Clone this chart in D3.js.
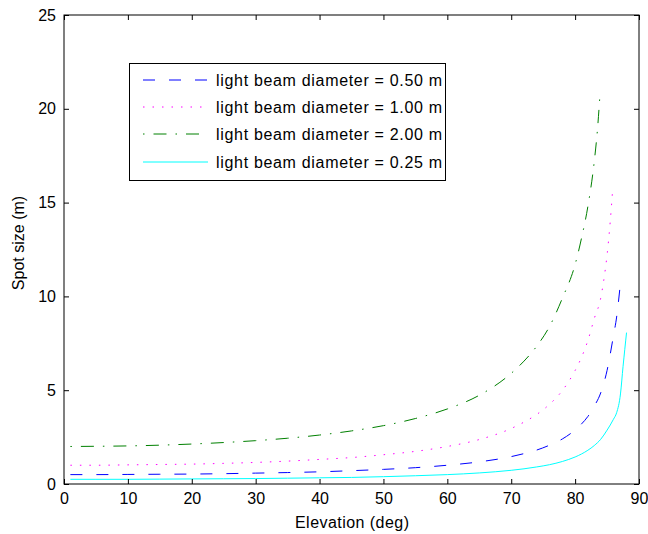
<!DOCTYPE html>
<html>
<head>
<meta charset="utf-8">
<script src="https://cdn.jsdelivr.net/npm/d3@7"></script>
<style>
  html, body { margin: 0; padding: 0; background: #fff; }
  svg { display: block; }
  text { font-family: "Liberation Sans", Arial, sans-serif; }
</style>
</head>
<body>
<svg id="chart" width="648" height="534"></svg>
<script>
// ---- data ----
const xTicks = [0, 10, 20, 30, 40, 50, 60, 70, 80, 90];
const yTicks = [0, 5, 10, 15, 20, 25];

const elev050 = [1, 5, 10, 15, 20, 25, 30, 35, 40, 45, 50, 55, 60, 65, 70, 72, 74, 76, 78, 80, 81, 82, 83, 84, 85, 86, 86.5, 87.0];
const spot050 = [0.50, 0.50, 0.51, 0.52, 0.53, 0.55, 0.58, 0.61, 0.65, 0.71, 0.78, 0.87, 1.00, 1.18, 1.46, 1.62, 1.81, 2.07, 2.40, 2.88, 3.20, 3.60, 4.15, 4.85, 6.05, 7.90, 8.90, 10.40];

const elev100 = [1, 5, 10, 15, 20, 25, 30, 35, 40, 45, 50, 55, 60, 65, 70, 72, 74, 76, 78, 80, 81, 82, 83, 84, 84.5, 85, 85.5, 85.9];
const spot100 = [1.00, 1.00, 1.02, 1.04, 1.06, 1.10, 1.15, 1.22, 1.31, 1.41, 1.56, 1.74, 2.00, 2.37, 2.96, 3.30, 3.71, 4.25, 4.98, 6.05, 6.75, 7.65, 8.82, 9.90, 10.90, 12.20, 14.00, 15.80];

const elev200 = [1, 5, 10, 15, 20, 25, 30, 35, 40, 45, 50, 55, 60, 65, 70, 72, 74, 76, 78, 80, 81, 82, 83, 83.5, 83.9];
const spot200 = [2.00, 2.01, 2.03, 2.07, 2.13, 2.21, 2.31, 2.44, 2.61, 2.83, 3.11, 3.49, 4.00, 4.73, 5.90, 6.55, 7.35, 8.40, 9.90, 11.70, 13.10, 14.80, 17.20, 18.90, 20.80];

const elev025 = [1, 5, 10, 15, 20, 25, 30, 35, 40, 45, 50, 55, 60, 65, 70, 72, 74, 76, 78, 80, 81, 82, 83, 84, 85, 86, 86.5, 87.1, 87.5, 88.05];
const spot025 = [0.25, 0.25, 0.25, 0.26, 0.27, 0.28, 0.29, 0.31, 0.33, 0.35, 0.39, 0.44, 0.50, 0.59, 0.73, 0.81, 0.91, 1.03, 1.20, 1.44, 1.60, 1.80, 2.05, 2.38, 2.87, 3.45, 3.80, 4.80, 6.25, 8.07];

const seriesNames = ["light beam diameter = 0.50 m", "light beam diameter = 1.00 m", "light beam diameter = 2.00 m", "light beam diameter = 0.25 m"];
const seriesColors = ["#0000ff", "#ff00ff", "#008000", "#00ffff"];
const seriesDash = ["12,14", "1.5,8", "1.5,9,13,9", null];
const seriesX = [elev050, elev100, elev200, elev025];
const seriesY = [spot050, spot100, spot200, spot025];

const xLabel = "Elevation (deg)";
const yLabel = "Spot size (m)";

// ---- layout ----
const svg = d3.select("#chart");
const L = 64, R = 639, T = 15, B = 484;
const x = d3.scaleLinear().domain([0, 90]).range([L, R]);
const y = d3.scaleLinear().domain([0, 25]).range([B, T]);
const fs = 16;

svg.append("rect").attr("width", 648).attr("height", 534).attr("fill", "#fff");

// series
const line = d3.line().x(d => x(d[0])).y(d => y(d[1])).curve(d3.curveMonotoneX);
seriesX.forEach((xs, i) => {
  const pts = xs.map((e, j) => [e, seriesY[i][j]]);
  const p = svg.append("path")
    .attr("d", line(pts))
    .attr("fill", "none")
    .attr("stroke", seriesColors[i])
    .attr("stroke-width", 1);
  if (seriesDash[i]) p.attr("stroke-dasharray", seriesDash[i]);
});

// axes (box with inward ticks on all sides)
const tickLen = 5;
const ax = svg.append("g").attr("stroke", "#000").attr("stroke-width", 1).attr("fill", "none");
ax.append("rect").attr("x", L).attr("y", T).attr("width", R - L).attr("height", B - T);

const xb = d3.axisBottom(x).tickValues(xTicks).tickSize(-tickLen).tickPadding(tickLen + 4).tickFormat(d3.format("d"));
const xt = d3.axisTop(x).tickValues(xTicks).tickSize(-tickLen).tickFormat("");
const yl = d3.axisLeft(y).tickValues(yTicks).tickSize(-tickLen).tickPadding(tickLen + 3).tickFormat(d3.format("d"));
const yr = d3.axisRight(y).tickValues(yTicks).tickSize(-tickLen).tickFormat("");

function styleAxis(g) {
  g.select(".domain").remove();
  g.selectAll(".tick line").attr("stroke", "#000");
  g.selectAll("text").attr("font-size", fs).attr("fill", "#000")
    .style("font-family", "'Liberation Sans', Arial, sans-serif");
}
svg.append("g").attr("transform", `translate(0,${B})`).call(xb).call(styleAxis);
svg.append("g").attr("transform", `translate(0,${T})`).call(xt).call(styleAxis);
svg.append("g").attr("transform", `translate(${L},0)`).call(yl).call(styleAxis);
svg.append("g").attr("transform", `translate(${R},0)`).call(yr).call(styleAxis);

// axis labels
svg.append("text").attr("x", 352).attr("y", 528).attr("text-anchor", "middle")
  .attr("font-size", fs).attr("textLength", 114).attr("lengthAdjust", "spacing").text(xLabel);
svg.append("text").attr("transform", `translate(24,${243}) rotate(-90)`)
  .attr("text-anchor", "middle").attr("font-size", fs).text(yLabel);

// legend
const lg = svg.append("g");
lg.append("rect").attr("x", 129.5).attr("y", 63.5).attr("width", 316).attr("height", 117)
  .attr("fill", "#fff").attr("stroke", "#000").attr("stroke-width", 1);
const rowY = [80, 107, 134, 162];
seriesNames.forEach((name, i) => {
  const ln = lg.append("line").attr("x1", 143).attr("x2", 208).attr("y1", rowY[i]).attr("y2", rowY[i])
    .attr("stroke", seriesColors[i]).attr("stroke-width", 1);
  if (seriesDash[i]) ln.attr("stroke-dasharray", seriesDash[i]);
  lg.append("text").attr("x", 216).attr("y", rowY[i] + 6).attr("font-size", fs)
    .attr("textLength", 226).attr("lengthAdjust", "spacing").text(name);
});
</script>
</body>
</html>
